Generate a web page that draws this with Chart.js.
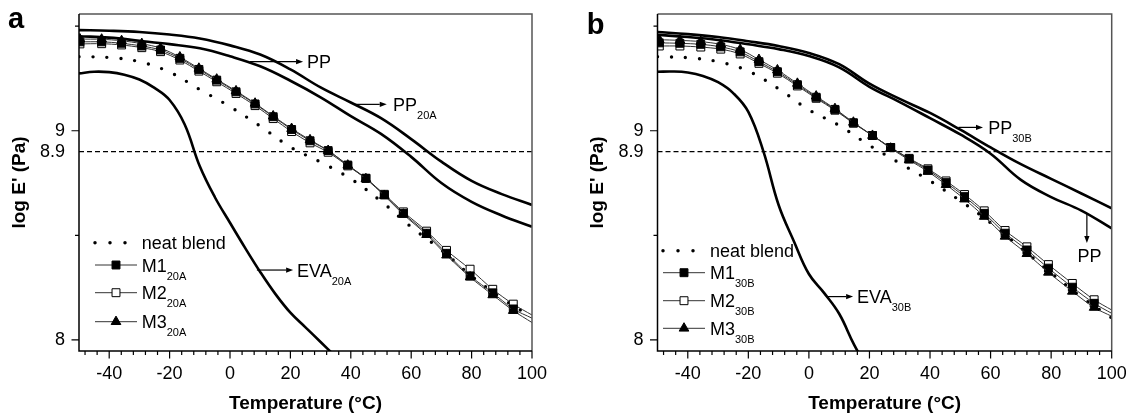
<!DOCTYPE html>
<html>
<head>
<meta charset="utf-8">
<script src="https://cdn.jsdelivr.net/npm/chart.js@4.4.1/dist/chart.umd.min.js"></script>
<style>
  html, body { margin: 0; padding: 0; background: #fff; overflow: hidden; }
  #wrap { position: relative; width: 1126px; height: 415px; overflow: hidden; }
  canvas { position: absolute; top: 0; }
  #cA { left: 0; }
  #cB { left: 563px; }
</style>
</head>
<body>
<div id="wrap">
  <canvas id="cA" width="590" height="415"></canvas>
  <canvas id="cB" width="590" height="415"></canvas>
</div>
<script>
const FONT = "'Liberation Sans', Arial, Helvetica, sans-serif";

// temperatures (°C) for the continuous curves
const tempCurve = [-50, -40, -30, -20, -10, 0, 10, 20, 30, 40, 50, 60, 70, 80, 90, 100];

// panel a
const pp20A = [9.481, 9.478, 9.472, 9.460, 9.441, 9.408, 9.364, 9.293, 9.207, 9.135, 9.060, 8.960, 8.852, 8.760, 8.697, 8.645];
const ppA   = [9.452, 9.445, 9.430, 9.414, 9.394, 9.356, 9.308, 9.239, 9.160, 9.070, 8.985, 8.875, 8.750, 8.660, 8.595, 8.541];
const neatA = [9.354, 9.350, 9.330, 9.280, 9.197, 9.115, 9.022, 8.922, 8.850, 8.770, 8.663, 8.540, 8.430, 8.305, 8.200, 8.108];
const tempEvaA = [-50, -45, -40, -35, -30, -25, -20, -15, -10, -5, 0, 5, 10, 15, 20, 25, 30, 35];
const eva20A   = [9.274, 9.282, 9.280, 9.268, 9.245, 9.205, 9.147, 9.030, 8.830, 8.682, 8.560, 8.440, 8.325, 8.220, 8.130, 8.060, 7.990, 7.920];
const tempMarkA = [-49.7, -42.5, -35.9, -29.2, -23, -16.6, -10.3, -4.4, 2, 8.3, 14.3, 20.4, 26.5, 32.5, 39, 45, 51.1, 57.4, 65.1, 71.7, 79.5, 87, 93.8, 100];
const m1A = [9.425, 9.425, 9.418, 9.405, 9.386, 9.346, 9.293, 9.242, 9.186, 9.128, 9.067, 9.006, 8.952, 8.905, 8.836, 8.773, 8.693, 8.605, 8.510, 8.414, 8.306, 8.225, 8.148, 8.104];
const m2A = [9.415, 9.416, 9.410, 9.397, 9.378, 9.338, 9.285, 9.234, 9.178, 9.120, 9.058, 8.996, 8.942, 8.897, 8.832, 8.772, 8.696, 8.612, 8.520, 8.428, 8.338, 8.242, 8.171, 8.119];
const m3A = [9.438, 9.437, 9.430, 9.416, 9.395, 9.352, 9.298, 9.246, 9.190, 9.131, 9.070, 9.010, 8.956, 8.905, 8.835, 8.770, 8.690, 8.600, 8.503, 8.405, 8.300, 8.215, 8.140, 8.083];

// panel b
const pp30B = [9.472, 9.462, 9.448, 9.428, 9.405, 9.372, 9.318, 9.225, 9.152, 9.085, 9.005, 8.920, 8.840, 8.770, 8.700, 8.629];
const ppB   = [9.458, 9.448, 9.434, 9.413, 9.390, 9.357, 9.303, 9.210, 9.137, 9.060, 8.982, 8.890, 8.765, 8.683, 8.618, 8.533];
const neatB = [9.354, 9.349, 9.330, 9.285, 9.200, 9.100, 9.025, 8.930, 8.845, 8.760, 8.665, 8.560, 8.440, 8.320, 8.205, 8.105];
const tempEvaB = [-50, -45, -40, -35, -30, -25, -20, -15, -10, -5, 0, 5, 10, 15, 20];
const eva30B   = [9.282, 9.283, 9.278, 9.262, 9.232, 9.180, 9.090, 8.900, 8.645, 8.473, 8.315, 8.225, 8.125, 7.975, 7.850];
const tempMarkB = [-49.4, -42.6, -35.7, -29.1, -22.7, -16.5, -10.4, -3.8, 2.4, 8.6, 14.7, 21, 27, 33.1, 39.3, 45.3, 51.4, 57.9, 64.8, 72, 79.1, 87, 94.2, 100];
const m1B = [9.420, 9.418, 9.413, 9.401, 9.377, 9.330, 9.282, 9.220, 9.160, 9.102, 9.038, 8.977, 8.920, 8.865, 8.812, 8.752, 8.685, 8.605, 8.510, 8.430, 8.343, 8.252, 8.175, 8.127];
const m2B = [9.405, 9.405, 9.400, 9.390, 9.367, 9.322, 9.275, 9.214, 9.155, 9.098, 9.036, 8.977, 8.920, 8.868, 8.818, 8.760, 8.695, 8.617, 8.523, 8.445, 8.360, 8.270, 8.192, 8.143];
const m3B = [9.435, 9.432, 9.426, 9.413, 9.388, 9.340, 9.290, 9.226, 9.165, 9.105, 9.040, 8.977, 8.916, 8.860, 8.805, 8.742, 8.673, 8.590, 8.495, 8.412, 8.323, 8.232, 8.155, 8.113];

// axes
const xMajor = [-40, -20, 0, 20, 40, 60, 80, 100];
const xMinorStep = 4;
const yLabelled = [8, 8.9, 9];
const yMajor = [8, 9];
const yMinor = [8.5, 9.5];
const refLevel = 8.9;

function pts(xs, ys) {
    return xs.map((x, i) => ({ x: x, y: ys[i] }));
}

function drawMarker(ctx, style, x, y, r, fill) {
    ctx.beginPath();
    if (style === 'triangle') {
        ctx.moveTo(x, y - r);
        ctx.lineTo(x + r * 0.866, y + r * 0.5);
        ctx.lineTo(x - r * 0.866, y + r * 0.5);
        ctx.closePath();
    } else {
        const h = r * Math.SQRT1_2;
        ctx.rect(x - h, y - h, 2 * h, 2 * h);
    }
    ctx.fillStyle = fill;
    ctx.fill();
    ctx.strokeStyle = '#000';
    ctx.lineWidth = 1;
    ctx.stroke();
}

function drawLabel(ctx, x, y, main, sub, center) {
    ctx.font = '18px ' + FONT;
    const w = ctx.measureText(main).width;
    ctx.font = '11px ' + FONT;
    const ws = sub ? ctx.measureText(sub).width : 0;
    const left = center ? x - (w + ws) / 2 : x;
    ctx.fillStyle = '#000';
    ctx.textBaseline = 'alphabetic';
    ctx.textAlign = 'left';
    ctx.font = '18px ' + FONT;
    ctx.fillText(main, left, y + 6.5);
    if (sub) {
        ctx.font = '11px ' + FONT;
        ctx.fillText(sub, left + w, y + 14.5);
    }
}

const decor = {
    id: 'decor',
    afterDraw(chart) {
        const o = chart.options.plugins.decor;
        const ctx = chart.ctx;
        const a = chart.chartArea;
        const sx = chart.scales.x, sy = chart.scales.y;
        ctx.save();

        // frame
        ctx.lineWidth = 1.5;
        ctx.strokeStyle = '#555';
        ctx.beginPath();
        ctx.moveTo(a.left, a.top); ctx.lineTo(a.right, a.top); ctx.lineTo(a.right, a.bottom);
        ctx.stroke();
        ctx.strokeStyle = '#000';
        ctx.beginPath();
        ctx.moveTo(a.left, a.top); ctx.lineTo(a.left, a.bottom); ctx.lineTo(a.right, a.bottom);
        ctx.stroke();

        // tick marks
        ctx.lineWidth = 1.2;
        ctx.beginPath();
        for (let v = xMajor[0] - 8; v <= 100; v += xMinorStep) {
            const len = xMajor.includes(v) ? 7.5 : 4;
            const px = sx.getPixelForValue(v);
            ctx.moveTo(px, a.bottom); ctx.lineTo(px, a.bottom + len);
        }
        yMajor.forEach(v => {
            const py = sy.getPixelForValue(v);
            ctx.moveTo(a.left, py); ctx.lineTo(a.left - 7.5, py);
        });
        yMinor.forEach(v => {
            const py = sy.getPixelForValue(v);
            ctx.moveTo(a.left, py); ctx.lineTo(a.left - 4, py);
        });
        ctx.stroke();

        // panel letter
        ctx.fillStyle = '#000';
        ctx.font = 'bold 29px ' + FONT;
        ctx.textAlign = 'left';
        ctx.textBaseline = 'alphabetic';
        ctx.fillText(o.letter, o.letterPos[0], o.letterPos[1]);

        // arrows and curve labels
        ctx.lineWidth = 1.2;
        o.arrows.forEach(ar => {
            const x1 = sx.getPixelForValue(ar.from[0]), y1 = sy.getPixelForValue(ar.from[1]);
            const x2 = sx.getPixelForValue(ar.to[0]), y2 = sy.getPixelForValue(ar.to[1]);
            const ang = Math.atan2(y2 - y1, x2 - x1);
            const hl = 7, hw = 2.6;
            ctx.beginPath();
            ctx.moveTo(x1, y1);
            ctx.lineTo(x2 - hl * Math.cos(ang), y2 - hl * Math.sin(ang));
            ctx.stroke();
            ctx.beginPath();
            ctx.moveTo(x2, y2);
            ctx.lineTo(x2 - hl * Math.cos(ang) - hw * Math.sin(ang), y2 - hl * Math.sin(ang) + hw * Math.cos(ang));
            ctx.lineTo(x2 - hl * Math.cos(ang) + hw * Math.sin(ang), y2 - hl * Math.sin(ang) - hw * Math.cos(ang));
            ctx.closePath();
            ctx.fill();
        });
        o.labels.forEach(lb => {
            drawLabel(ctx, sx.getPixelForValue(lb.at[0]), sy.getPixelForValue(lb.at[1]), lb.main, lb.sub, lb.center);
        });

        // legend
        const lg = o.legend;
        lg.rows.forEach((row, i) => {
            const y = lg.y[i];
            ctx.strokeStyle = '#000';
            if (row.dots) {
                ctx.lineWidth = 3.5;
                ctx.lineCap = 'round';
                ctx.setLineDash([0, 15]);
                ctx.beginPath();
                ctx.moveTo(lg.x0, y); ctx.lineTo(lg.x0 + 33, y);
                ctx.stroke();
                ctx.setLineDash([]);
                ctx.lineCap = 'butt';
            } else {
                ctx.lineWidth = 1;
                ctx.strokeStyle = '#333';
                ctx.beginPath();
                ctx.moveTo(lg.x0, y); ctx.lineTo(lg.x0 + 42, y);
                ctx.stroke();
                drawMarker(ctx, row.style, lg.x0 + 21, y, 5.6, row.fill);
            }
            drawLabel(ctx, lg.tx, y, row.main, row.sub, false);
        });
        ctx.restore();
    }
};

function makePanel(id, p) {
    const markR = ctx => (ctx.dataIndex < p.tMark.length - 1 ? 5.6 : 0);
    const markLine = (vals, style, fill) => ({
        data: pts(p.tMark, vals),
        borderColor: '#333', borderWidth: 1, tension: 0.3,
        pointStyle: style, pointRadius: markR, pointHoverRadius: markR,
        pointBackgroundColor: fill, pointBorderColor: '#000', pointBorderWidth: 1
    });
    const solid = (xs, ys) => ({
        data: pts(xs, ys), borderColor: '#000', borderWidth: 2.6,
        pointRadius: 0, tension: 0.4
    });

    const chart = new Chart(document.getElementById(id), {
        type: 'line',
        data: {
            datasets: [
                markLine(p.m3, 'triangle', '#000'),
                markLine(p.m1, 'rect', '#000'),
                markLine(p.m2, 'rect', '#fff'),
                {
                    data: pts(tempCurve, p.neat), borderColor: '#000', borderWidth: 3.4,
                    borderDash: [0, 14], borderCapStyle: 'round', pointRadius: 0, tension: 0.4
                },
                solid(tempCurve, p.ppc),
                solid(tempCurve, p.pp),
                solid(p.tEva, p.eva),
                {
                    data: [{ x: -50, y: refLevel }, { x: 100, y: refLevel }],
                    borderColor: '#000', borderWidth: 1.1, borderDash: [5, 3], pointRadius: 0
                }
            ]
        },
        options: {
            responsive: false,
            animation: false,
            events: [],
            layout: { autoPadding: false, padding: { left: 0, top: 14, right: p.padRight, bottom: 0 } },
            plugins: {
                legend: { display: false },
                tooltip: { enabled: false },
                decor: p.decor
            },
            scales: {
                x: {
                    type: 'linear', min: -50, max: 100,
                    afterBuildTicks: s => { s.ticks = xMajor.map(v => ({ value: v })); },
                    afterFit: s => { s.height = 64; },
                    grid: { display: false, drawTicks: true, tickLength: 12 },
                    border: { display: false },
                    ticks: {
                        autoSkip: false, maxRotation: 0, padding: 0, color: '#000',
                        font: { family: FONT, size: 18 },
                        callback: v => String(v)
                    },
                    title: {
                        display: true, text: 'Temperature (°C)', color: '#000',
                        font: { family: FONT, size: 19, weight: 'bold' },
                        padding: { top: 0, bottom: 0 }
                    }
                },
                y: {
                    type: 'linear', min: 7.947, max: 9.558,
                    afterBuildTicks: s => { s.ticks = yLabelled.map(v => ({ value: v })); },
                    afterFit: s => { s.width = p.yWidth; },
                    grid: { display: false, drawTicks: true, tickLength: 14 },
                    border: { display: false },
                    ticks: {
                        autoSkip: false, padding: 0, color: '#000',
                        font: { family: FONT, size: 18 },
                        callback: v => String(v)
                    },
                    title: {
                        display: true, text: "log E' (Pa)", color: '#000',
                        font: { family: FONT, size: 19, weight: 'bold' },
                        padding: { top: p.yTitlePad, bottom: 0 }
                    }
                }
            }
        },
        plugins: [decor]
    });

    // nudge the padding until the plot box sits where the original one is
    for (let k = 0; k < 3; k++) {
        const ca = chart.chartArea;
        const dt = ca.top - 14, dr = ca.right - p.right;
        if (Math.abs(dt) < 0.3 && Math.abs(dr) < 0.3) break;
        const pad = chart.options.layout.padding;
        chart.options.layout.padding = { left: 0, top: pad.top - dt, right: pad.right + dr, bottom: 0 };
        chart.update();
    }
    return chart;
}

makePanel('cA', {
    tMark: tempMarkA, m1: m1A, m2: m2A, m3: m3A,
    neat: neatA, pp: ppA, ppc: pp20A, tEva: tempEvaA, eva: eva20A,
    padRight: 58, right: 532, yWidth: 79, yTitlePad: 8.6,
    decor: {
        letter: 'a', letterPos: [8, 28],
        arrows: [
            { from: [6.6, 9.33], to: [24.2, 9.33] },
            { from: [40.8, 9.126], to: [51.9, 9.126] },
            { from: [8.9, 8.334], to: [20.9, 8.334] }
        ],
        labels: [
            { at: [25.5, 9.33], main: 'PP', sub: '' },
            { at: [54, 9.126], main: 'PP', sub: '20A' },
            { at: [22.2, 8.334], main: 'EVA', sub: '20A' }
        ],
        legend: {
            x0: 95, tx: 141.7, y: [242.7, 265, 292.7, 321.7],
            rows: [
                { dots: true, main: 'neat blend', sub: '' },
                { style: 'rect', fill: '#000', main: 'M1', sub: '20A' },
                { style: 'rect', fill: '#fff', main: 'M2', sub: '20A' },
                { style: 'triangle', fill: '#000', main: 'M3', sub: '20A' }
            ]
        }
    }
});

makePanel('cB', {
    tMark: tempMarkB, m1: m1B, m2: m2B, m3: m3B,
    neat: neatB, pp: ppB, ppc: pp30B, tEva: tempEvaB, eva: eva30B,
    padRight: 41.3, right: 548.7, yWidth: 94.5, yTitlePad: 23.1,
    decor: {
        letter: 'b', letterPos: [23.7, 34],
        arrows: [
            { from: [49.4, 9.016], to: [57.5, 9.016] },
            { from: [91.8, 8.607], to: [91.8, 8.463] },
            { from: [5.9, 8.207], to: [14.6, 8.207] }
        ],
        labels: [
            { at: [59.2, 9.016], main: 'PP', sub: '30B' },
            { at: [92.7, 8.404], main: 'PP', sub: '', center: true },
            { at: [15.9, 8.207], main: 'EVA', sub: '30B' }
        ],
        legend: {
            x0: 100, tx: 147, y: [250.7, 272.7, 300.7, 328.3],
            rows: [
                { dots: true, main: 'neat blend', sub: '' },
                { style: 'rect', fill: '#000', main: 'M1', sub: '30B' },
                { style: 'rect', fill: '#fff', main: 'M2', sub: '30B' },
                { style: 'triangle', fill: '#000', main: 'M3', sub: '30B' }
            ]
        }
    }
});
</script>
</body>
</html>
